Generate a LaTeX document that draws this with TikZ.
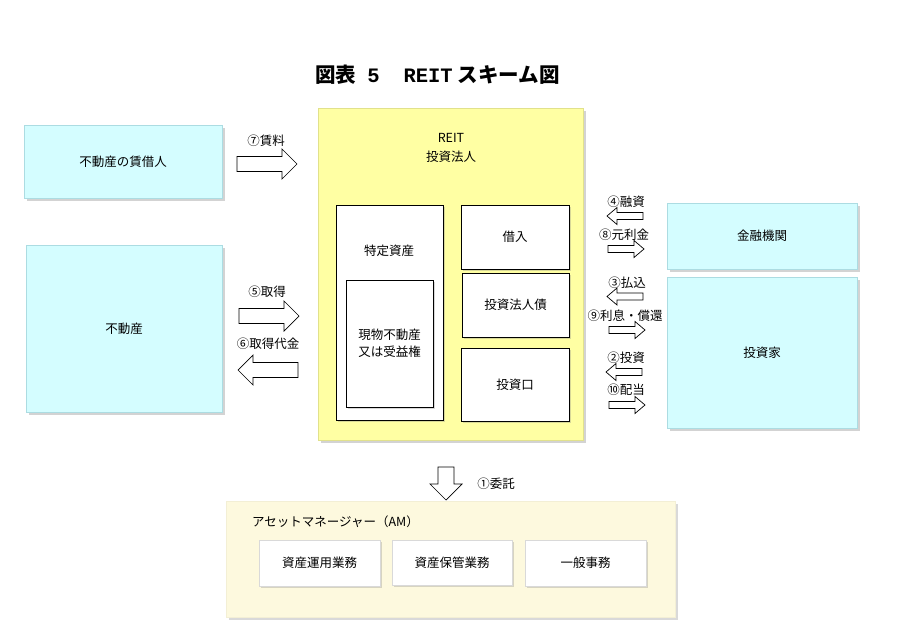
\documentclass[tikz,border=0pt]{standalone}
\usepackage{fontspec}
\setmainfont{Noto Sans CJK JP}
\newfontfamily\titlemono{Liberation Mono}
\usepackage{tikz}
\usetikzlibrary{positioning,shadows}
\definecolor{boxcyan}{RGB}{212,253,255}
\definecolor{cyanedge}{RGB}{172,220,226}
\definecolor{reityellow}{RGB}{255,255,163}
\definecolor{yellowedge}{RGB}{225,225,140}
\definecolor{amcream}{RGB}{253,249,222}
\tikzset{party/.style={rectangle, fill=boxcyan, draw=cyanedge, inner sep=0pt, drop shadow={shadow xshift=2.5pt,shadow yshift=-2.5pt,opacity=.35}},
	fund/.style={rectangle, fill=reityellow, draw=yellowedge, inner sep=0pt, drop shadow={shadow xshift=2.5pt,shadow yshift=-2.5pt,opacity=.35}},
	asset/.style={rectangle, fill=white, draw=black, line width=.8pt, inner sep=0pt, align=center, execute at begin node=\setlength{\baselineskip}{17pt}, drop shadow={shadow xshift=2pt,shadow yshift=-2pt,opacity=.3}},
	manager/.style={rectangle, fill=amcream, draw=amcream!80!black!20!amcream, inner sep=0pt, drop shadow={shadow xshift=2.5pt,shadow yshift=-2.5pt,opacity=.3}},
	task/.style={rectangle, fill=white, draw=black!15, inner sep=0pt, drop shadow={shadow xshift=2pt,shadow yshift=-2pt,opacity=.3}},
	lbl/.style={inner sep=0pt},
	blockarr/.style={draw=black, fill=white, line width=.7pt, line join=miter},
	bigarr/.pic={\draw[blockarr] (0,-7.5) -- (45,-7.5) -- (45,-15) -- (60,0) -- (45,15) -- (45,7.5) -- (0,7.5) -- cycle;},
	smallarr/.pic={\draw[blockarr] (0,-3.5) -- (26,-3.5) -- (26,-8.5) -- (36,0) -- (26,8.5) -- (26,3.5) -- (0,3.5) -- cycle;}}

\begin{document}
\begin{tikzpicture}[x=1pt,y=-1pt,font=\fontsize{12.5}{15}\selectfont]
		\useasboundingbox (0,0) rectangle (900,634);
		\node[lbl,font=\fontsize{20.5}{24}\selectfont\bfseries] (title) at (437.5,75) {図表\hspace{11pt}{\titlemono 5}\hspace{24pt}{\titlemono REIT}\hspace{5pt}スキーム図};
		% left side
		\node[party,minimum width=198pt,minimum height=73pt] (lessee) at (123,161.5) {不動産の賃借人};
		\node[party,minimum width=196pt,minimum height=167pt] (property) at (124,328.5) {不動産};
		% REIT
		\node[fund,minimum width=265pt,minimum height=332pt] (reit) at (450.5,274) {};
		\node[lbl,align=center,execute at begin node=\setlength{\baselineskip}{19pt}] (reitlbl) at (451,148) {REIT\\投資法人};
		\node[asset,minimum width=107pt,minimum height=215pt] (specified) at (389.5,312.5) {};
		\node[lbl] (specifiedlbl) at (389,251) {特定資産};
		\node[asset,minimum width=87pt,minimum height=127pt] (realestate) at (389.5,343.5) {現物不動産\\又は受益権};
		\node[asset,minimum width=108pt,minimum height=64pt] (borrow) at (515,237) {借入};
		\node[asset,minimum width=107pt,minimum height=64pt] (bond) at (515.5,305) {投資法人債};
		\node[asset,minimum width=108pt,minimum height=73pt] (units) at (515,384.5) {投資口};
		% right side
		\node[party,minimum width=190pt,minimum height=66pt] (bank) at (762,236) {金融機関};
		\node[party,minimum width=190pt,minimum height=151pt] (investor) at (762,352.5) {投資家};
		% asset manager
		\node[manager,minimum width=449pt,minimum height=116pt] (am) at (450.5,559.5) {};
		\node[lbl,anchor=west] (amlbl) at (252,522) {アセットマネージャー（AM）};
		\node[task,minimum width=121pt,minimum height=46pt] (operation) at (319.5,563) {資産運用業務};
		\node[task,minimum width=120pt,minimum height=45pt] (custody) at (452,562.5) {資産保管業務};
		\node[task,minimum width=121pt,minimum height=46pt] (admin) at (585.5,563) {一般事務};
		% flows
		\pic at (237,164) {bigarr};
		\node[lbl] (rent) at (266,141) {⑦賃料};
		\pic at (239,316) {bigarr};
		\node[lbl] (acquire) at (267,292) {⑤取得};
		\pic[xscale=-1] at (298,370) {bigarr};
		\node[lbl] (price) at (268,344) {⑥取得代金};
		\pic[xscale=-1] at (643,216) {smallarr};
		\node[lbl] (loan) at (626,202) {④融資};
		\pic at (608,249) {smallarr};
		\node[lbl] (repay) at (624,235) {⑧元利金};
		\pic[xscale=-1] at (643,296.5) {smallarr};
		\node[lbl] (paidin) at (627,283) {③払込};
		\pic at (609,330) {smallarr};
		\node[lbl] (interest) at (625,316) {⑨利息・償還};
		\pic[xscale=-1] at (642,372) {smallarr};
		\node[lbl] (invest) at (626,358) {②投資};
		\pic at (609,405) {smallarr};
		\node[lbl] (dividend) at (626,390) {⑩配当};
		\draw[blockarr] (438,467) -- (454,467) -- (454,484) -- (462,484) -- (446,500) -- (430,484) -- (438,484) -- cycle;
		\node[lbl] (entrust) at (496,484) {①委託};
		\end{tikzpicture}
\end{document}
